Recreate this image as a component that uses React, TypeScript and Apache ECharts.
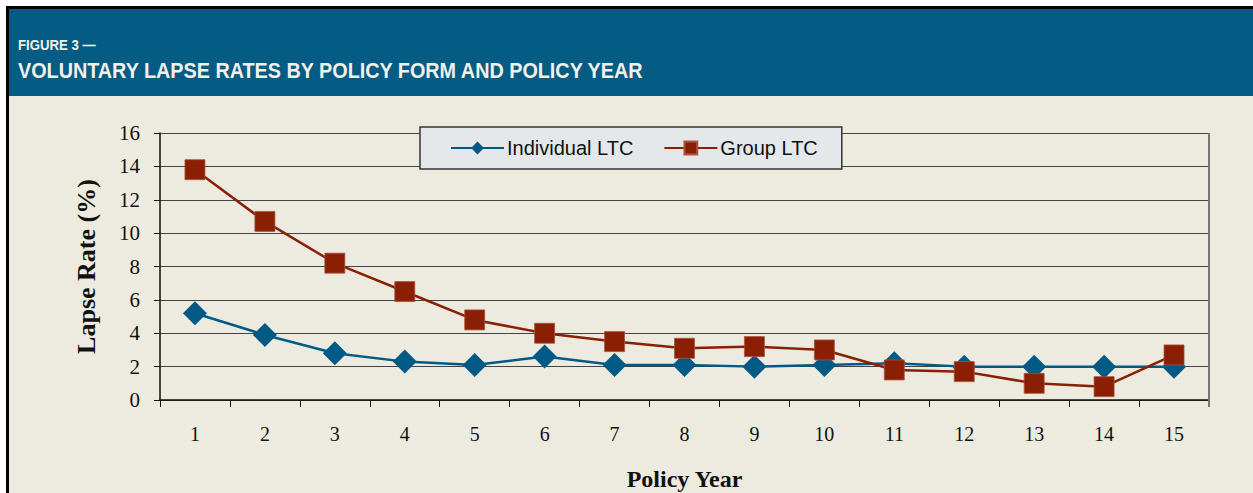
import React, { useEffect, useRef } from "react";
import * as echarts from "echarts";

const policyYears = ["1", "2", "3", "4", "5", "6", "7", "8", "9", "10", "11", "12", "13", "14", "15"];
const individualLTC = [5.2, 3.9, 2.8, 2.3, 2.1, 2.6, 2.1, 2.1, 2.0, 2.1, 2.2, 2.0, 2.0, 2.0, 2.0];
const groupLTC = [13.8, 10.7, 8.2, 6.5, 4.8, 4.0, 3.5, 3.1, 3.2, 3.0, 1.8, 1.7, 1.0, 0.8, 2.7];

const W = 1253;
const H = 493;
const BLUE = "#005A85";
const RED = "#8A1F04";
const HEADER = "#045B84";
const BG = "#EDEBE0";
const SERIF = '"Liberation Serif", "Times New Roman", serif';

export default function App() {
  const ref = useRef<HTMLDivElement>(null);
  useEffect(() => {
    if (!ref.current) return;
    const chart = echarts.init(ref.current, undefined, { renderer: "svg" });
    chart.setOption({
      animation: false,
      backgroundColor: "#ffffff",
      graphic: [
        { type: "rect", shape: { x: 6, y: 6, width: W - 6, height: H - 6 }, style: { fill: "#000" }, z: -10 },
        { type: "rect", shape: { x: 9, y: 9, width: W - 9, height: 87 }, style: { fill: HEADER }, z: -9 },
        { type: "rect", shape: { x: 9, y: 96, width: W - 9, height: H - 96 }, style: { fill: BG }, z: -9 },
        {
          type: "text",
          x: 18,
          y: 37,
          scaleX: 0.88,
          style: {
            text: "FIGURE 3 —",
            fill: "#F2F0E8",
            font: 'bold 15px "Liberation Sans", Arial, sans-serif',
          },
        },
        {
          type: "text",
          x: 18,
          y: 59,
          scaleX: 0.9,
          style: {
            text: "VOLUNTARY LAPSE RATES BY POLICY FORM AND POLICY YEAR",
            fill: "#F2F0E8",
            font: 'bold 22px "Liberation Sans", Arial, sans-serif',
          },
        },
      ],
      grid: { left: 160, right: W - 1209, top: 133, bottom: H - 400, show: false, containLabel: false, outerBoundsMode: "none" },
      legend: {
        left: 420,
        top: 127,
        padding: [11, 24, 11, 30],
        backgroundColor: "#E4E8EB",
        borderColor: "#333",
        borderWidth: 1.5,
        itemWidth: 53,
        itemHeight: 16,
        itemGap: 30,
        textStyle: { fontFamily: '"Liberation Sans", Arial, sans-serif', fontSize: 20, color: "#111", padding: [0, 0, 0, -2] },
        data: ["Individual LTC", "Group LTC"],
      },
      xAxis: {
        type: "category",
        data: policyYears,
        boundaryGap: true,
        name: "Policy Year",
        nameLocation: "middle",
        nameGap: 79,
        nameMoveOverlap: false,
        nameTextStyle: { fontFamily: SERIF, fontWeight: "bold", fontSize: 24, color: "#111", verticalAlign: "middle" },
        axisLine: { lineStyle: { color: "#111", width: 1.5 } },
        axisTick: { show: true, alignWithLabel: false, length: 7, lineStyle: { color: "#111" } },
        axisLabel: { margin: 24, fontFamily: SERIF, fontSize: 20, color: "#111" },
        splitLine: { show: false },
      },
      yAxis: {
        type: "value",
        min: 0,
        max: 16,
        interval: 2,
        name: "Lapse Rate (%)",
        nameLocation: "middle",
        nameGap: 74,
        nameRotate: 90,
        nameMoveOverlap: false,
        nameTextStyle: { fontFamily: SERIF, fontWeight: "bold", fontSize: 26, color: "#111", verticalAlign: "middle" },
        axisLine: { show: true, lineStyle: { color: "#111", width: 1.5 } },
        axisTick: { show: true, length: 6, lineStyle: { color: "#111" } },
        axisLabel: { margin: 20, fontFamily: SERIF, fontSize: 21, color: "#111" },
        splitLine: { show: true, lineStyle: { color: "#444", width: 1.2 } },
      },
      series: [
        {
          name: "Individual LTC",
          type: "line",
          data: individualLTC,
          symbol: "diamond",
          symbolSize: [24, 24],
          itemStyle: { color: BLUE },
          lineStyle: { color: BLUE, width: 2.5 },
          z: 3,
        },
        {
          name: "Group LTC",
          type: "line",
          data: groupLTC,
          symbol: "rect",
          symbolSize: 20,
          itemStyle: { color: RED, borderColor: "#A8563F", borderWidth: 0.8 },
          lineStyle: { color: RED, width: 2.5 },
          z: 4,
        },
        {
          type: "line",
          data: [],
          markLine: {
            silent: true,
            symbol: "none",
            label: { show: false },
            lineStyle: { color: "#777", width: 2, type: "solid" },
            data: [[{ x: 1209, y: 133 }, { x: 1209, y: 407 }]],
          },
        },
      ],
    });
    return () => chart.dispose();
  }, []);
  return <div ref={ref} style={{ position: "absolute", left: 0, top: 0, width: W, height: H }} />;
}
